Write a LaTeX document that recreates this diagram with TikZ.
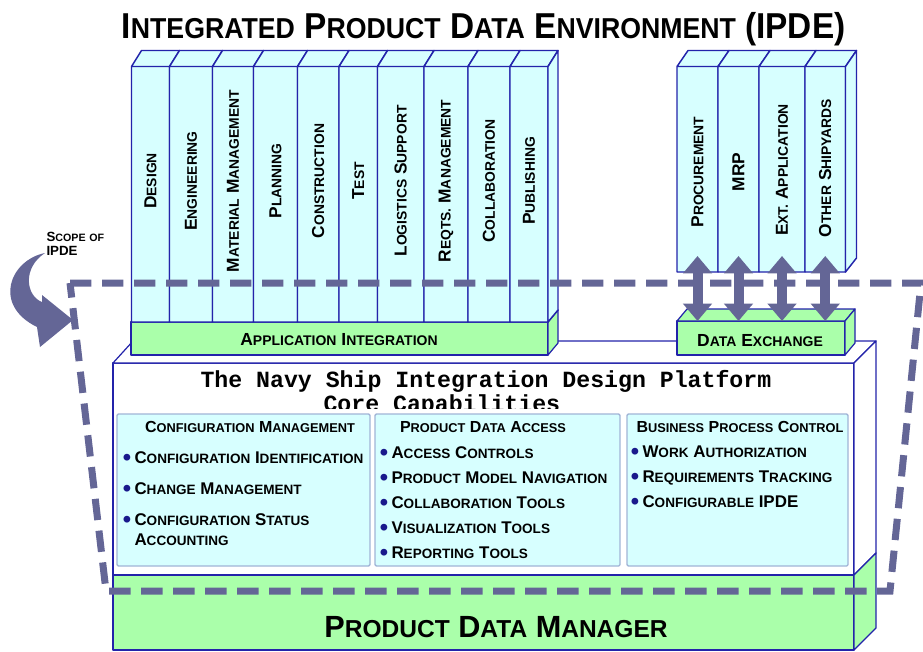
\documentclass[tikz,border=0pt]{standalone}
\usepackage{fontspec}
\setmainfont{Liberation Sans}
\setmonofont{Liberation Mono}
\usetikzlibrary{positioning,arrows.meta}
\tikzset{every picture/.style={line width=0.75pt}}

\definecolor{edgeblue}{RGB}{35,35,170}
\definecolor{colcyan}{RGB}{215,255,255}
\definecolor{bargreen}{RGB}{170,255,170}
\definecolor{scopeslate}{RGB}{100,102,150}
\definecolor{paneledge}{RGB}{160,180,215}
\definecolor{dotblue}{RGB}{25,25,140}

% first letter big, the rest as small capitals
\newcommand\smc[1]{\smcsplit#1\relax}
\def\smcsplit#1#2\relax{#1\scalebox{0.8}{\MakeUppercase{#2}}}
\newcommand\lsc[1]{\scalebox{0.8}{\MakeUppercase{#1}}}
\newcommand\itm{\llap{\textcolor{dotblue}{\raisebox{-0.3ex}{\scalebox{1.4}{\textbullet}}}\hspace{2.5pt}}}

\tikzset{
  colface/.style={draw=edgeblue, fill=colcyan, line width=1.1pt, line join=round},
  greenface/.style={draw=edgeblue, fill=bargreen, line width=0.9pt, line join=round},
  whiteface/.style={draw=edgeblue, fill=white, line width=0.9pt, line join=round},
  panel/.style={draw=paneledge, fill=colcyan, line width=1pt, rounded corners=1pt},
  scopeline/.style={draw=scopeslate, line width=5.25pt, dash pattern=on 16pt off 8pt},
  dblarrow/.style={draw=scopeslate, line width=7.5pt, {Triangle[width=21pt,length=13pt]}-{Triangle[width=21pt,length=13pt]}},
  titletext/.style={font=\fontsize{27}{30}\selectfont\bfseries, inner sep=0pt},
  collabel/.style={rotate=90, font=\fontsize{13}{15}\selectfont\bfseries, inner sep=0pt},
  barlabel/.style={font=\fontsize{13.1}{15}\selectfont\bfseries, inner sep=0pt},
  boxhead/.style={font=\fontsize{12}{14}\selectfont\bfseries, inner sep=0pt},
  item/.style={font=\fontsize{12.7}{14}\selectfont\bfseries, inner sep=0pt, anchor=base west},
  mono/.style={font=\fontsize{17.4}{20}\selectfont\ttfamily\bfseries, inner sep=0pt},
  pdmlabel/.style={font=\fontsize{23}{26}\selectfont\bfseries, inner sep=0pt},
  scopelabel/.style={font=\fontsize{10}{10.5}\selectfont\bfseries, inner sep=0pt}
}

\begin{document}
\begin{tikzpicture}[x=0.75pt,y=0.75pt,yscale=-1,xscale=1]

\useasboundingbox (0,0) rectangle (923,651);

%Shape: Platform box [front, top, side]
\draw[whiteface] (113,363) rectangle (854,575);
\draw[whiteface] (113,363) -- (133,341) -- (876,341) -- (854,363) -- cycle;
\draw[whiteface] (854,363) -- (876,341) -- (876,553) -- (854,575) -- cycle;
%Shape: Product data manager slab
\draw[greenface] (113,575) rectangle (854,650);
\draw[greenface] (854,575) -- (876,553) -- (876,628) -- (854,650) -- cycle;

%Shape: Capability panels
\draw[panel] (117,414) rectangle (370,566);
\draw[panel] (375,414) rectangle (620,566);
\draw[panel] (627,414) rectangle (848,566);

% Text Node
\begin{scope}
  \clip (113,363) rectangle (854,408);
  \node[mono, anchor=base west] (platform) at (200,387) {The Navy Ship Integration Design Platform};
  \node[mono, anchor=base west] (corecap) at (323,411) {Core Capabilities};
\end{scope}

% Text Node
\node[boxhead, anchor=base] (cmhead) at (250,432) {\smc{Configuration} \smc{Management}};
\node[item] (cmident) at (134,463) {\itm\smc{Configuration} \smc{Identification}};
\node[item] (cmchange) at (134,494) {\itm\smc{Change} \smc{Management}};
\node[item] (cmstatus) at (134,525) {\itm\smc{Configuration} \smc{Status}};
\node[item] (cmaccount) at (134,545) {\smc{Accounting}};
% Text Node
\node[boxhead, anchor=base] (pdahead) at (483,432) {\smc{Product} \smc{Data} \smc{Access}};
\node[item] (pdaaccess) at (391,458) {\itm\smc{Access} \smc{Controls}};
\node[item] (pdanav) at (391,483) {\itm\smc{Product} \smc{Model} \smc{Navigation}};
\node[item] (pdacollab) at (391,508) {\itm\smc{Collaboration} \smc{Tools}};
\node[item] (pdavisual) at (391,533) {\itm\smc{Visualization} \smc{Tools}};
\node[item] (pdareport) at (391,558) {\itm\smc{Reporting} \smc{Tools}};
% Text Node
\node[boxhead, anchor=base] (bpchead) at (740,432) {\smc{Business} \smc{Process} \smc{Control}};
\node[item] (bpcwork) at (642,457) {\itm\smc{Work} \smc{Authorization}};
\node[item] (bpcreq) at (642,482) {\itm\smc{Requirements} \smc{Tracking}};
\node[item] (bpcconf) at (642,507) {\itm\smc{Configurable} IPDE};

%Shape: Application integration bar
\draw[greenface] (131,322) rectangle (548,355);
\draw[greenface] (131,322) -- (141,310) -- (558,310) -- (548,322) -- cycle;
\draw[greenface] (548,322) -- (558,310) -- (558,343) -- (548,355) -- cycle;
\node[barlabel, anchor=base] (appint) at (339,345) {\smc{Application} \smc{Integration}};

%Shape: Data exchange bar
\draw[greenface] (677,321) rectangle (845,355);
\draw[greenface] (677,321) -- (687,309) -- (855,309) -- (845,321) -- cycle;
\draw[greenface] (845,321) -- (855,309) -- (855,343) -- (845,355) -- cycle;
\node[barlabel, anchor=base] (dataex) at (760,346) {\smc{Data} \smc{Exchange}};

%Shape: Application columns
\draw[colface] (131.5,66.5) rectangle (169.5,322) (131.5,66.5) -- (141.5,50.5) -- (179.5,50.5) -- (169.5,66.5) -- cycle;
\draw[colface] (169.5,66.5) rectangle (212.5,322) (169.5,66.5) -- (179.5,50.5) -- (222.5,50.5) -- (212.5,66.5) -- cycle;
\draw[colface] (212.5,66.5) rectangle (253.5,322) (212.5,66.5) -- (222.5,50.5) -- (263.5,50.5) -- (253.5,66.5) -- cycle;
\draw[colface] (253.5,66.5) rectangle (297.5,322) (253.5,66.5) -- (263.5,50.5) -- (307.5,50.5) -- (297.5,66.5) -- cycle;
\draw[colface] (297.5,66.5) rectangle (339,322) (297.5,66.5) -- (307.5,50.5) -- (349,50.5) -- (339,66.5) -- cycle;
\draw[colface] (339,66.5) rectangle (377.5,322) (339,66.5) -- (349,50.5) -- (387.5,50.5) -- (377.5,66.5) -- cycle;
\draw[colface] (377.5,66.5) rectangle (424,322) (377.5,66.5) -- (387.5,50.5) -- (434,50.5) -- (424,66.5) -- cycle;
\draw[colface] (424,66.5) rectangle (468,322) (424,66.5) -- (434,50.5) -- (478,50.5) -- (468,66.5) -- cycle;
\draw[colface] (468,66.5) rectangle (510,322) (468,66.5) -- (478,50.5) -- (520,50.5) -- (510,66.5) -- cycle;
\draw[colface] (510,66.5) rectangle (548,322) (510,66.5) -- (520,50.5) -- (558,50.5) -- (548,66.5) -- cycle;
\draw[colface] (548,66.5) -- (558,50.5) -- (558,310) -- (548,322) -- cycle;

% Text Node
\node[collabel] (design) at (150.5,181) {\smc{Design}};
\node[collabel] (engineering) at (191,181) {\smc{Engineering}};
\node[collabel] (material) at (233,181) {\smc{Material} \smc{Management}};
\node[collabel] (planning) at (275.5,181) {\smc{Planning}};
\node[collabel] (construction) at (318.25,181) {\smc{Construction}};
\node[collabel] (test) at (358.25,181) {\smc{Test}};
\node[collabel] (logistics) at (400.75,181) {\smc{Logistics} \smc{Support}};
\node[collabel] (reqts) at (446,181) {\smc{Reqts.} \smc{Management}};
\node[collabel] (collab) at (489,181) {\smc{Collaboration}};
\node[collabel] (publishing) at (529,181) {\smc{Publishing}};

%Shape: External columns
\draw[colface] (677,66.5) rectangle (718,272) (677,66.5) -- (688,50.5) -- (729,50.5) -- (718,66.5) -- cycle;
\draw[colface] (718,66.5) rectangle (759,272) (718,66.5) -- (729,50.5) -- (770,50.5) -- (759,66.5) -- cycle;
\draw[colface] (759,66.5) rectangle (805,272) (759,66.5) -- (770,50.5) -- (816,50.5) -- (805,66.5) -- cycle;
\draw[colface] (805,66.5) rectangle (845.5,272) (805,66.5) -- (816,50.5) -- (856.5,50.5) -- (845.5,66.5) -- cycle;
\draw[colface] (845.5,66.5) -- (856.5,50.5) -- (856.5,258) -- (845.5,272) -- cycle;

% Text Node
\node[collabel] (procurement) at (697.5,172) {\smc{Procurement}};
\node[collabel] (mrp) at (738.5,172) {MRP};
\node[collabel] (extapp) at (782,170) {\smc{Ext.} \smc{Application}};
\node[collabel] (shipyards) at (825.25,168) {\smc{Other} \smc{Shipyards}};

%Shape: Scope of IPDE (dashed)
\draw[scopeline] (70,283) -- (921,283) -- (890,591) -- (106,591) -- cycle;

%Straight Lines: exchange arrows
\coordinate (procbot) at (697.5,256);
\coordinate (procdx) at (697.5,321);
\coordinate (mrpbot) at (738.5,256);
\coordinate (mrpdx) at (738.5,321);
\coordinate (extbot) at (782,256);
\coordinate (extdx) at (782,321);
\coordinate (shipbot) at (825.25,256);
\coordinate (shipdx) at (825.25,321);
\draw[dblarrow] (procbot) -- (procdx);
\draw[dblarrow] (mrpbot) -- (mrpdx);
\draw[dblarrow] (extbot) -- (extdx);
\draw[dblarrow] (shipbot) -- (shipdx);

%Shape: Curved arrow
\fill[scopeslate] (45,253) .. controls (10,260) and (-8,305) .. (37,327) -- (40,347) -- (73,320) -- (42,295) -- (42,302) .. controls (26,296) and (22,268) .. (45,253) -- cycle;
% Text Node
\node[scopelabel, anchor=north west, align=left] (scopetxt) at (46,232) {\smc{Scope} \lsc{of}\\IPDE};

% Text Node
\node[titletext, anchor=base] (ipdetitle) at (483.5,38) {\scalebox{0.927}[1]{\smc{Integrated} \smc{Product} \smc{Data} \smc{Environment} (IPDE)}};
% Text Node
\node[pdmlabel, anchor=base] (pdm) at (496,637) {\smc{Product} \smc{Data} \smc{Manager}};

\end{tikzpicture}
\end{document}
